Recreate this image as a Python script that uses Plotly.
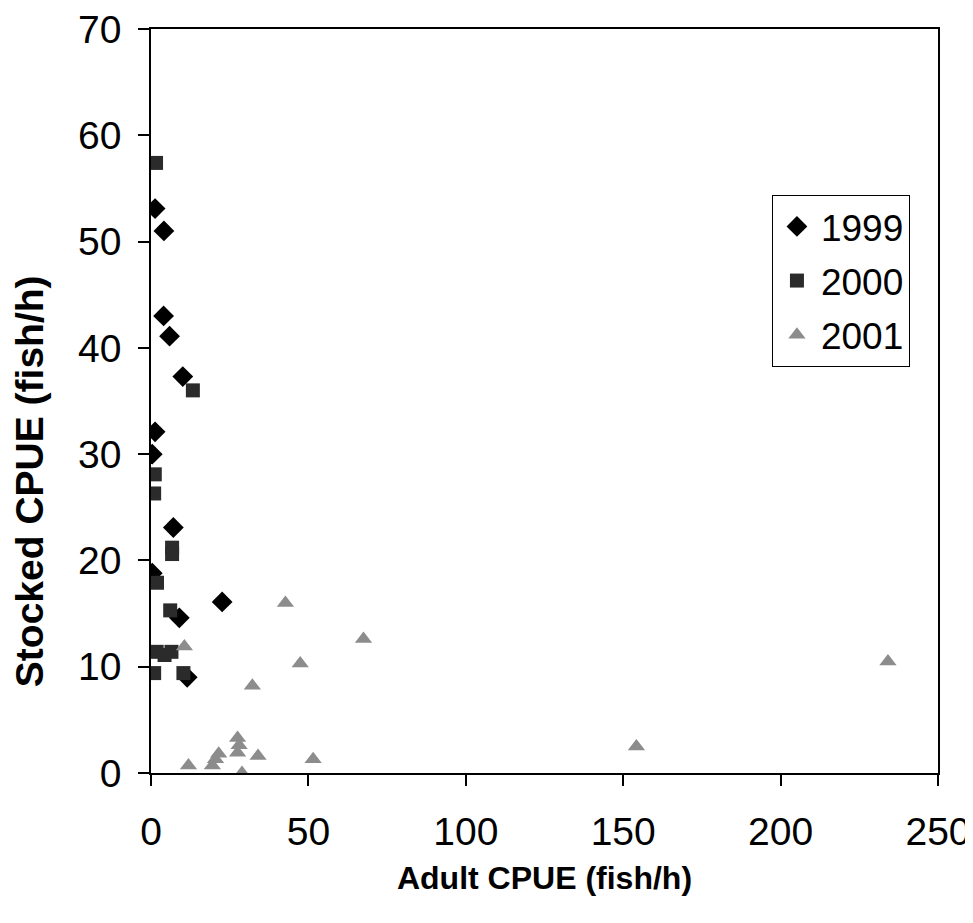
import plotly.graph_objects as go

# 1999 (diamonds)
x1999 = [1.3, 4.1, 4.0, 5.9, 10.1, 1.3, 0.4, 7.1, 0.4, 22.6, 9.0, 11.5]
y1999 = [53.1, 51.0, 43.0, 41.1, 37.3, 32.1, 30.0, 23.1, 18.8, 16.1, 14.6, 9.0]

# 2000 (squares)
x2000 = [1.6, 13.3, 1.2, 1.0, 6.7, 6.7, 1.9, 6.1, 1.8, 4.3, 6.5, 1.0, 10.3]
y2000 = [57.4, 36.0, 28.1, 26.3, 21.2, 20.6, 17.9, 15.3, 11.4, 11.1, 11.4, 9.4, 9.4]

# 2001 (triangles)
x2001 = [42.7, 67.5, 10.6, 47.4, 32.2, 27.5, 28.0, 27.5, 21.5, 20.5, 19.5,
         34.0, 11.9, 28.9, 51.5, 154.2, 234.1]
y2001 = [16.0, 12.6, 11.9, 10.3, 8.2, 3.3, 2.6, 1.9, 1.8, 1.3, 0.7,
         1.6, 0.7, 0.0, 1.3, 2.5, 10.5]

x_ticks = [0, 50, 100, 150, 200, 250]
y_ticks = [0, 10, 20, 30, 40, 50, 60, 70]

FONT = "Liberation Sans, Arial, sans-serif"

fig = go.Figure()
fig.add_trace(go.Scatter(x=x1999, y=y1999, mode="markers", name="1999", legendgroup="a",
                         marker=dict(symbol="diamond", size=16, color="#000000")))
fig.add_trace(go.Scatter(x=x2000, y=y2000, mode="markers", name="2000", legendgroup="b",
                         marker=dict(symbol="square", size=14, color="#2b2b2b")))
fig.add_trace(go.Scatter(x=x2001, y=y2001, mode="markers", name="2001", legendgroup="c",
                         marker=dict(symbol="triangle-up", size=15, color="#8c8c8c")))

axis_common = dict(showgrid=False, zeroline=False, showline=True, linecolor="black",
                   linewidth=1.5, mirror=True, ticks="outside", ticklen=11,
                   tickcolor="black", tickwidth=1.5, ticklabeloverflow="allow",
                   automargin=False,
                   tickfont=dict(family=FONT, size=39, color="black"))

fig.update_xaxes(range=[0, 250], tickvals=x_ticks, ticklabelstandoff=12,
                 title=dict(text="<b>Adult CPUE (fish/h)</b>", standoff=15,
                            font=dict(family=FONT, size=32, color="black")),
                 **axis_common)
fig.update_yaxes(range=[0, 70], tickvals=y_ticks, ticklabelstandoff=9,
                 **axis_common)

fig.add_annotation(text="<b>Stocked CPUE (fish/h)</b>", textangle=-90,
                   xref="paper", yref="paper", x=-0.154, y=0.392,
                   xanchor="center", yanchor="middle", showarrow=False,
                   font=dict(family=FONT, size=39, color="black"))

fig.update_layout(
    width=973, height=923,
    plot_bgcolor="white", paper_bgcolor="white",
    margin=dict(l=143, r=43, t=21, b=158),
    font=dict(family=FONT, color="black"),
    legend=dict(x=0.789, y=0.777, xanchor="left", yanchor="top",
                bgcolor="white", bordercolor="black", borderwidth=1,
                font=dict(family=FONT, size=37, color="black"),
                itemsizing="trace", itemwidth=38, tracegroupgap=3),
    showlegend=True,
)

fig.write_html("out.html")
